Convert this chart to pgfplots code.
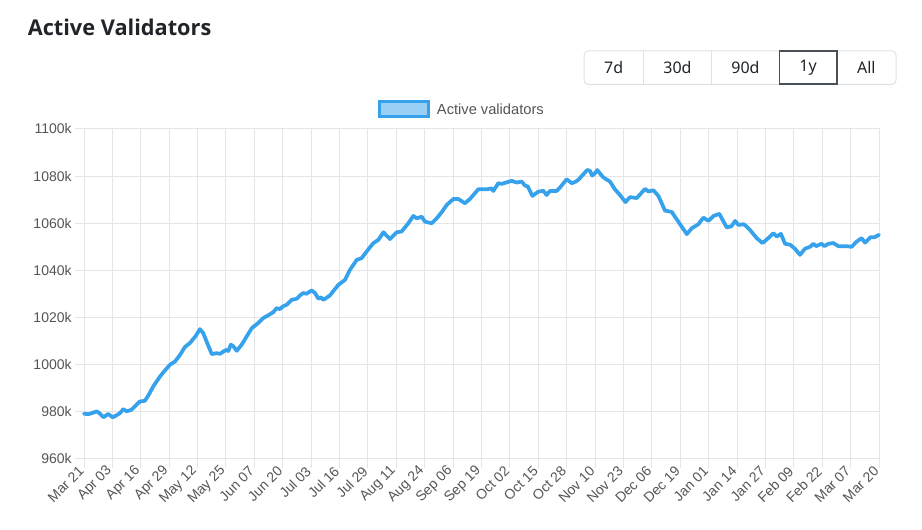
\documentclass[border=0pt]{standalone}
\usepackage{fontspec}
\setmainfont{Liberation Sans}
\newfontfamily\uifont{Noto Sans}
\newfontfamily\titlefont{Open Sans}
\usepackage{pgfplots}
\pgfplotsset{compat=1.18}
\definecolor{cjsblue}{RGB}{54,162,235}
\definecolor{legfill}{RGB}{154,208,245}
\definecolor{gridc}{RGB}{229,229,229}
\definecolor{tickc}{RGB}{85,85,85}
\definecolor{btnborder}{RGB}{222,226,230}
\definecolor{btndark}{RGB}{73,80,87}
\definecolor{titlec}{RGB}{33,37,41}
\begin{document}
\begin{tikzpicture}[x=0.75pt,y=0.75pt]
\useasboundingbox (0,0) rectangle (922,530);
% title
\node[anchor=base west, inner sep=0, text=titlec, font=\titlefont\bfseries\fontsize{16.3}{18}\selectfont] at (27.5,494) {Active Validators};
% buttons
\draw[btnborder, line width=0.75pt, rounded corners=3pt] (584,479) rectangle (896,445.7);
\draw[btnborder, line width=0.75pt] (643.3,479) -- (643.3,445.7);
\draw[btnborder, line width=0.75pt] (711.7,479) -- (711.7,445.7);
\draw[btndark, line width=1.2pt] (779.3,479) rectangle (836.7,445.7);
\begin{scope}[every node/.style={font=\uifont\fontsize{12}{14}\selectfont, text=titlec, inner sep=0}]
\node at (613.7,462.3) {7d};
\node at (677.5,462.3) {30d};
\node at (745.5,462.3) {90d};
\node at (808,462.3) {1y};
\node at (866.3,462.3) {All};
\end{scope}
% legend
\draw[cjsblue, fill=legfill, line width=2.25pt] (379.8,428.2) rectangle (428.5,413.5);
\node[anchor=west, inner sep=0, text=tickc, font=\fontsize{11}{12}\selectfont] at (436.7,421) {Active validators};
\begin{axis}[
  at={(63pt,53.25pt)}, anchor=south west,
  scale only axis, width=596.25pt, height=247.5pt,
  xmin=0, xmax=364, ymin=960, ymax=1100,
  xtick={0,13,...,364},
  xticklabels={Mar 21,Apr 03,Apr 16,Apr 29,May 12,May 25,Jun 07,Jun 20,Jul 03,Jul 16,Jul 29,Aug 11,Aug 24,Sep 06,Sep 19,Oct 02,Oct 15,Oct 28,Nov 10,Nov 23,Dec 06,Dec 19,Jan 01,Jan 14,Jan 27,Feb 09,Feb 22,Mar 07,Mar 20},
  ytick={960,980,...,1100},
  yticklabels={960k,980k,1000k,1020k,1040k,1060k,1080k,1100k},
  grid=major, grid style={gridc, line width=0.75pt},
  axis line style={gridc, line width=0.75pt},
  tick style={gridc, line width=0.75pt},
  tick align=outside, major tick length=6.75pt,
  xtick pos=lower, ytick pos=left,
  ticklabel style={font=\fontsize{10.5}{12}\selectfont, text=tickc},
  xticklabel style={rotate=45, anchor=east, xshift=1.5pt, yshift=1pt},
  yticklabel style={xshift=1pt},
  clip=false,
]
\addplot[color=cjsblue, line width=2.8pt, line join=round, line cap=round, mark=none] table {
x y
0 979.2
2 979.0
4 979.6
5.8 980.2
7 979.5
8.9 977.7
11.1 979.1
13.1 977.7
15 978.6
16.5 979.5
18 981.2
19.5 980.2
21.8 980.9
23.5 982.5
25.6 984.4
27.9 984.7
29.8 987.5
31.7 990.8
34.8 995.0
37 997.5
39.4 1000.0
41.7 1001.4
44 1004.2
46.2 1007.5
48.5 1009.2
51 1012.0
53.1 1015.1
54.6 1013.4
56.5 1009.0
58.5 1004.5
60.8 1004.9
62.3 1004.6
63.8 1005.6
65.3 1006.3
66.1 1005.8
67.2 1008.5
68.4 1007.8
69.9 1005.9
72.2 1008.5
74.5 1012.0
76.8 1015.5
79.8 1017.7
82.1 1019.8
84.4 1021.0
86.7 1022.3
88.2 1024.0
89.7 1023.6
91.2 1024.8
92.8 1025.4
95.1 1027.5
97.4 1028.0
99 1029.5
100.4 1030.4
101.9 1030.1
104.2 1031.5
105.8 1030.4
107.3 1028.0
108.5 1028.6
109.6 1027.5
112.6 1029.4
114.4 1031.5
116.5 1033.9
119.5 1036.0
121.8 1040.3
124.9 1044.5
127.1 1045.2
129.8 1048.5
132.5 1051.6
134.8 1053.0
137.1 1056.2
140.1 1053.3
143.2 1056.2
145.4 1056.5
148.5 1060.0
150.8 1063.1
152.3 1062.1
154.6 1062.8
156.1 1060.7
159.2 1060.0
161.5 1062.1
164 1065.0
166.1 1067.8
169.1 1070.3
171.4 1070.3
174.4 1068.5
176.7 1070.3
180.5 1074.4
184.4 1074.4
186.6 1074.8
187.4 1073.7
189.7 1077.0
191.2 1076.7
195.8 1078.0
198.1 1077.3
200.4 1077.7
201.9 1076.0
203.2 1075.6
205.3 1071.6
208 1073.4
210.3 1073.8
211.8 1072.0
213.3 1073.7
216.4 1073.7
217.9 1075.1
221 1078.7
223.3 1077.0
224.8 1077.5
226.3 1078.4
230.4 1082.6
231.6 1082.3
232.7 1080.2
233.9 1081.2
235 1082.6
237.7 1079.5
240.8 1077.7
243.1 1074.4
245.4 1072.0
247.9 1069.0
250 1071.1
253.1 1070.7
256.9 1074.6
258.4 1073.5
260.7 1074.0
263 1071.6
266 1065.4
269.1 1064.8
272.9 1059.6
276 1055.4
278.3 1057.9
281.3 1059.6
283.6 1062.4
285.9 1061.0
288.2 1063.1
290.9 1064.0
294.3 1058.2
296.5 1058.8
298.1 1061.0
299.6 1059.3
302.2 1059.6
304.9 1057.2
308 1053.7
310.7 1051.6
313.3 1053.7
315.6 1055.8
317.2 1054.4
319.1 1055.5
321 1051.3
323.3 1050.9
325.5 1049.2
327.8 1046.6
330.1 1049.2
332.4 1050.0
333.9 1051.3
335.2 1050.3
337.7 1051.3
339 1050.3
340.8 1051.3
343.1 1051.6
345.4 1050.3
349.2 1050.3
351.5 1050.0
353.5 1052.0
356 1053.7
357.6 1051.8
360.2 1054.1
362 1054.1
364 1055.1
};
\end{axis}
\end{tikzpicture}
\end{document}
